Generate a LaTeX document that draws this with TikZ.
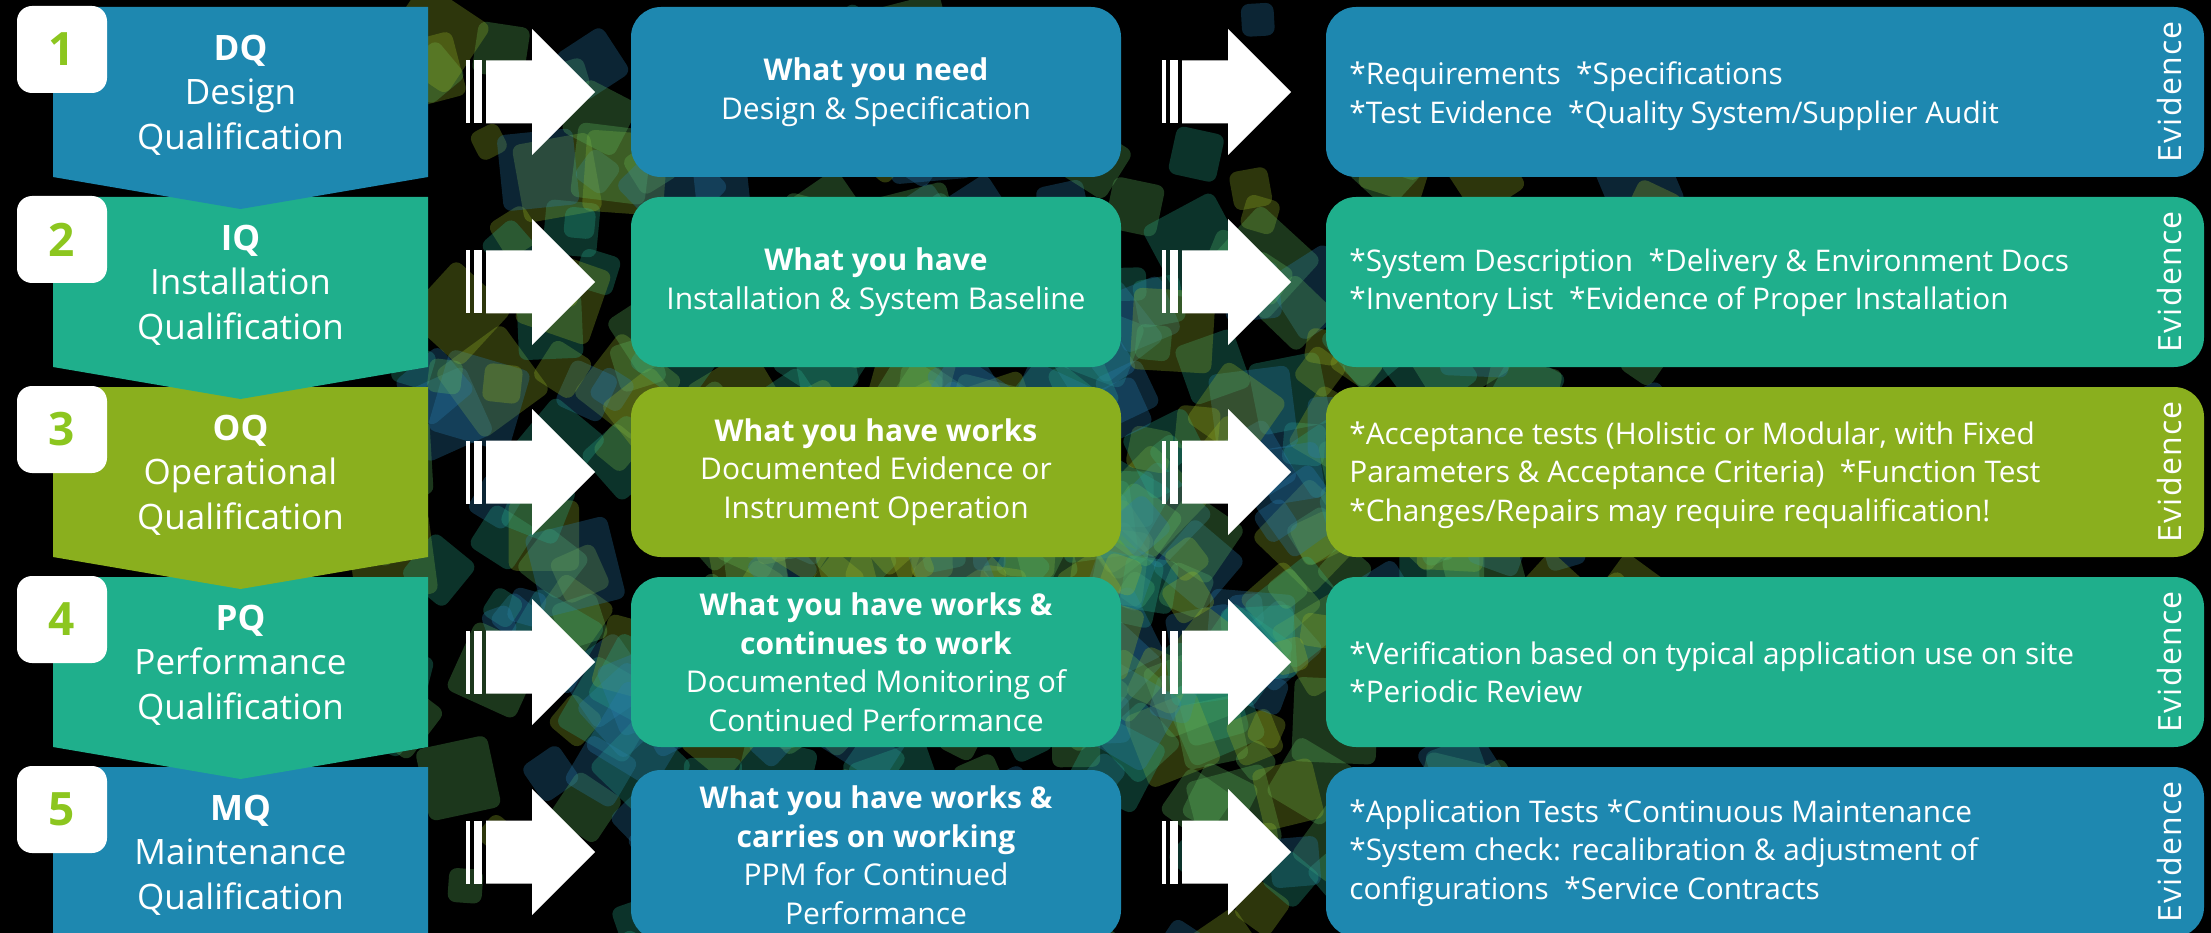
\documentclass[tikz,border=0pt]{standalone}
\usepackage{fontspec}
\setmainfont{Open Sans}
\definecolor{qblue}{RGB}{30,136,176}
\definecolor{qteal}{RGB}{31,175,140}
\definecolor{qolive}{RGB}{138,175,30}
\definecolor{qnum}{RGB}{140,198,31}
\definecolor{sq0}{RGB}{40,125,175}
\definecolor{sq1}{RGB}{40,170,140}
\definecolor{sq2}{RGB}{150,180,40}
\definecolor{sq3}{RGB}{95,185,95}
\begin{document}
\begin{tikzpicture}[x=1pt, y=-1pt,
    badge/.style={fill=white, rounded corners=15pt, minimum width=90pt, minimum height=87pt, text=qnum, font=\fontsize{46}{46}\selectfont\bfseries},
    qualText/.style={text=white, align=center, font=\fontsize{35}{44.5}\selectfont},
    needBox/.style={rounded corners=30pt, minimum width=490pt, minimum height=170pt, text=white, align=center, font=\fontsize{30}{38.5}\selectfont},
    proofBox/.style={rounded corners=30pt, minimum width=878pt, minimum height=170pt},
    proofText/.style={text=white, align=left, anchor=west, font=\fontsize{29.8}{38.5}\selectfont},
    evTag/.style={text=white, rotate=90, font=\fontsize{32}{32}\selectfont\addfontfeature{LetterSpace=4}},
    chevron/.pic={\fill (0,-85) -- (375,-85) -- (375,85) -- (187.5,117) -- (0,85) -- cycle;},
    blockArrow/.pic={
        \fill (0,-31.5) rectangle (4,31.5);
        \fill (8,-31.5) rectangle (16,31.5);
        \fill (20,-31.5) -- (66,-31.5) -- (66,-63) -- (129,0) -- (66,63) -- (66,31.5) -- (20,31.5) -- cycle;}]
    \useasboundingbox (0,0) rectangle (2211,933);
    \clip (0,0) rectangle (2211,933);
    \fill[black] (0,0) rectangle (2211,933);

    % scattered squares behind the boxes
    \pgfmathsetseed{42}
    \foreach \k in {1,...,480}{
        \pgfmathsetmacro\sx{990+390*(rand+rand)}
        \pgfmathsetmacro\sy{520+270*(rand+rand)}
        \pgfmathsetmacro\ss{30+55*rnd}
        \pgfmathsetmacro\sr{60*rand}
        \pgfmathtruncatemacro\sc{mod(\k,4)}
        \fill[fill=sq\sc, opacity=0.3, rounded corners=8pt, rotate around={\sr:(\sx,\sy)}] (\sx-\ss/2,\sy-\ss/2) rectangle ++(\ss,\ss);
    }

    % qualification chevrons, last one first
    \pic[fill=qblue] at (53,852) {chevron};
    \pic[fill=qteal] at (53,662) {chevron};
    \pic[fill=qolive] at (53,472) {chevron};
    \pic[fill=qteal] at (53,282) {chevron};
    \pic[fill=qblue] at (53,92) {chevron};

    \node[qualText](dq) at (240.5,95) {\textbf{DQ}\\Design\\Qualification};
    \node[qualText](iq) at (240.5,285) {\textbf{IQ}\\Installation\\Qualification};
    \node[qualText](oq) at (240.5,475) {\textbf{OQ}\\Operational\\Qualification};
    \node[qualText](pq) at (240.5,665) {\textbf{PQ}\\Performance\\Qualification};
    \node[qualText](mq) at (240.5,855) {\textbf{MQ}\\Maintenance\\Qualification};

    \node[badge](n1) at (62,49.5) {1};
    \node[badge](n2) at (62,239.5) {2};
    \node[badge](n3) at (62,429.5) {3};
    \node[badge](n4) at (62,619.5) {4};
    \node[badge](n5) at (62,809.5) {5};

    % what each step asks for
    \node[needBox, fill=qblue](need1) at (876,92) {\textbf{What you need}\\Design \& Specification};
    \node[needBox, fill=qteal](need2) at (876,282) {\textbf{What you have}\\Installation \& System Baseline};
    \node[needBox, fill=qolive](need3) at (876,472) {\textbf{What you have works}\\Documented Evidence or\\Instrument Operation};
    \node[needBox, fill=qteal](need4) at (876,662) {\textbf{What you have works \&}\\\textbf{continues to work}\\Documented Monitoring of\\Continued Performance};
    \node[needBox, fill=qblue](need5) at (876,855) {\textbf{What you have works \&}\\\textbf{carries on working}\\PPM for Continued\\Performance};

    % evidence boxes
    \node[proofBox, fill=qblue](ev1) at (1765,92) {};
    \node[proofBox, fill=qteal](ev2) at (1765,282) {};
    \node[proofBox, fill=qolive](ev3) at (1765,472) {};
    \node[proofBox, fill=qteal](ev4) at (1765,662) {};
    \node[proofBox, fill=qblue](ev5) at (1765,852) {};

    \node[proofText](ev1txt) at ([xshift=20pt,yshift=-4pt]ev1.west) {*Requirements\ \ *Specifications\\*Test Evidence\ \ *Quality System/Supplier Audit};
    \node[proofText](ev2txt) at ([xshift=20pt,yshift=-1pt]ev2.west) {*System Description\ \ *Delivery \& Environment Docs\\*Inventory List\ \ *Evidence of Proper Installation};
    \node[proofText](ev3txt) at ([xshift=20pt,yshift=-3pt]ev3.west) {*Acceptance tests (Holistic or Modular, with Fixed\\Parameters \& Acceptance Criteria)\ \ *Function Test\\*Changes/Repairs may require requalification!};
    \node[proofText](ev4txt) at ([xshift=20pt,yshift=-10pt]ev4.west) {*Verification based on typical application use on site\\*Periodic Review};
    \node[proofText](ev5txt) at ([xshift=20pt,yshift=-1pt]ev5.west) {*Application Tests *Continuous Maintenance\\*System check: recalibration \& adjustment of\\configurations\ \ *Service Contracts};

    \node[evTag](tag1) at ([xshift=-35pt]ev1.east) {Evidence};
    \node[evTag](tag2) at ([xshift=-35pt]ev2.east) {Evidence};
    \node[evTag](tag3) at ([xshift=-35pt]ev3.east) {Evidence};
    \node[evTag](tag4) at ([xshift=-35pt]ev4.east) {Evidence};
    \node[evTag](tag5) at ([xshift=-35pt]ev5.east) {Evidence};

    % striped arrows between the columns
    \pic[fill=white] at (466,92) {blockArrow};
    \pic[fill=white] at (466,282) {blockArrow};
    \pic[fill=white] at (466,472) {blockArrow};
    \pic[fill=white] at (466,662) {blockArrow};
    \pic[fill=white] at (466,852) {blockArrow};
    \pic[fill=white] at (1162,92) {blockArrow};
    \pic[fill=white] at (1162,282) {blockArrow};
    \pic[fill=white] at (1162,472) {blockArrow};
    \pic[fill=white] at (1162,662) {blockArrow};
    \pic[fill=white] at (1162,852) {blockArrow};
\end{tikzpicture}
\end{document}
